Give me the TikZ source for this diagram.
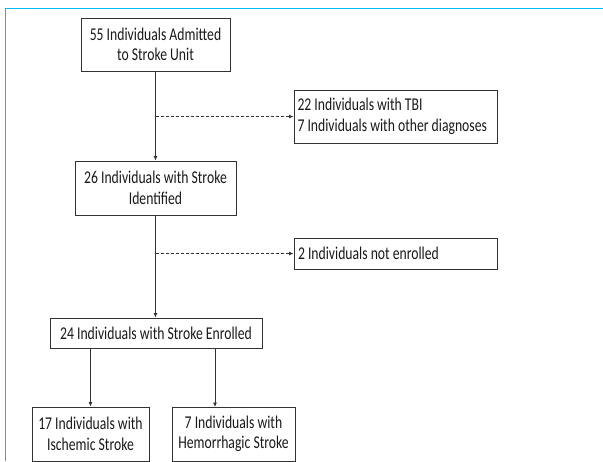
\documentclass[tikz,border=0pt]{standalone}
\usepackage{fontspec}
\setmainfont{Carlito}[FakeStretch=0.76]
\usetikzlibrary{arrows.meta}
\definecolor{framecyan}{RGB}{0, 186, 245}
\definecolor{boxline}{RGB}{50, 50, 50}
\definecolor{textgray}{RGB}{25, 25, 25}

\begin{document}
\begin{tikzpicture}[x=1pt, y=-1pt,
		flowbox/.style={draw=boxline, line width=1pt, inner sep=0pt, text=textgray, font=\fontsize{18}{20.5}\selectfont},
		arr/.style={draw=boxline, line width=0.8pt, -{Latex[length=4.5pt, width=4pt]}},
		dasharr/.style={arr, dashed, dash pattern=on 3pt off 2pt}]
			\useasboundingbox (0, 0) rectangle (603, 461);
			\draw [framecyan, line width=1.6pt] (5.5, 461) -- (5.5, 8.5) -- (603, 8.5);
			\node [flowbox, align=center, minimum width=149pt, minimum height=53pt] (admitted) at (155.5, 44.5) {55 Individuals Admitted\\to Stroke Unit};
			\node [flowbox, align=flush left, minimum width=203pt, minimum height=53pt, text width=196pt] (excluded) at (395.5, 116.5) {22 Individuals with TBI\\7 Individuals with other diagnoses};
			\node [flowbox, align=center, minimum width=161pt, minimum height=54pt] (identified) at (155.5, 188) {26 Individuals with Stroke\\Identified};
			\node [flowbox, align=flush left, minimum width=203pt, minimum height=31pt, text width=195pt] (notenrolled) at (395.5, 253.5) {2 Individuals not enrolled};
			\node [flowbox, align=center, minimum width=212pt, minimum height=30pt] (enrolled) at (156, 333) {24 Individuals with Stroke Enrolled};
			\node [flowbox, align=center, minimum width=117pt, minimum height=54pt] (ischemic) at (90.5, 434) {17 Individuals with\\Ischemic Stroke};
			\node [flowbox, align=center, minimum width=123pt, minimum height=54pt] (hemorrhagic) at (233.5, 434) {7 Individuals with\\Hemorrhagic Stroke};
			\coordinate (hemtop) at (215, 407);
			\draw [arr] (admitted.south) -- (identified.north);
			\draw [dasharr] (admitted.south |- excluded.west) -- (excluded.west);
			\draw [arr] (identified.south) -- (enrolled.north -| identified.south);
			\draw [dasharr] (identified.south |- notenrolled.west) -- (notenrolled.west);
			\draw [arr] (enrolled.south -| ischemic.north) -- (ischemic.north);
			\draw [arr] (enrolled.south -| hemtop) -- (hemtop);
		\end{tikzpicture}
\end{document}
